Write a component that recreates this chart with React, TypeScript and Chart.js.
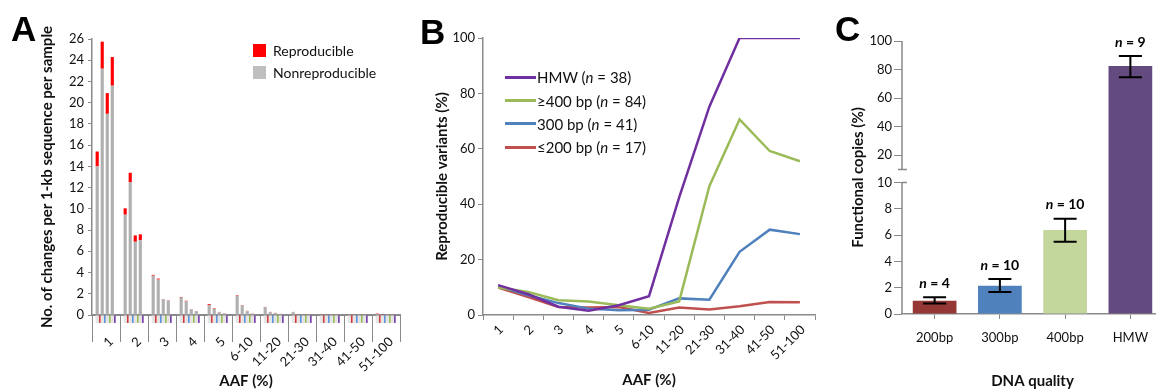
import React, { useEffect, useRef } from 'react';
import { Chart, registerables, LinearScale } from 'chart.js';

const FONT = 'Lato, "Open Sans", "DejaVu Sans", sans-serif';
const LETTER_FONT = '"Liberation Sans", Arial, sans-serif';
const TEXT = '#111111';
const AXIS = '#8a8a8a';

// ---------------- Panel A data ----------------
const aafLabels = ['1', '2', '3', '4', '5', '6-10', '11-20', '21-30', '31-40', '41-50', '51-100'];
const nonRepS1 = [14.0, 9.45, 3.7, 1.64, 0.95, 1.8, 0.72, 0.27, 0.04, 0.03, 0.1];
const repS1 = [1.4, 0.6, 0.08, 0.06, 0.08, 0.05, 0.04, 0.02, 0.02, 0.01, 0.04];
const nonRepS2 = [23.2, 12.5, 3.34, 1.28, 0.58, 0.88, 0.26, 0.05, 0.03, 0.03, 0.04];
const repS2 = [2.55, 0.9, 0.09, 0.06, 0.05, 0.04, 0.03, 0.01, 0.01, 0.01, 0.02];
const nonRepS3 = [18.95, 6.9, 1.48, 0.52, 0.26, 0.36, 0.18, 0.04, 0.03, 0.02, 0.03];
const repS3 = [1.95, 0.6, 0.03, 0.03, 0.03, 0.03, 0.02, 0.01, 0.01, 0.01, 0.01];
const nonRepS4 = [21.6, 7.05, 1.35, 0.36, 0.15, 0.12, 0.1, 0.03, 0.02, 0.02, 0.03];
const repS4 = [2.7, 0.55, 0.03, 0.02, 0.02, 0.02, 0.01, 0.01, 0.01, 0.01, 0.01];
const markerDepth = [-0.75, -0.75, -0.75, -0.75, -0.75, -0.75, -0.75, -0.75, -0.75, -0.75, -0.75];
const aTickMax = 26;

// ---------------- Panel B data ----------------
const hmwPct = [10.8, 7.5, 3.0, 1.5, 3.5, 6.8, 42.5, 75.2, 100, 100, 100];
const bp400Pct = [9.9, 8.3, 5.3, 4.9, 3.5, 2.3, 4.9, 46.5, 70.6, 59.2, 55.5];
const bp300Pct = [10.4, 7.1, 4.3, 2.3, 1.7, 1.9, 6.0, 5.5, 22.8, 30.8, 29.2];
const bp200Pct = [9.9, 6.5, 2.9, 2.7, 2.9, 0.7, 2.7, 2.0, 3.2, 4.7, 4.6];
const bSeriesNames = ['HMW', '≥400 bp', '300 bp', '≤200 bp'];
const bSeriesN = [38, 84, 41, 17];

// ---------------- Panel C data ----------------
const qualityLabels = ['200bp', '300bp', '400bp', 'HMW'];
const functionalPct = [1.0, 2.15, 6.4, 82.5];
const errLow = [0.8, 1.67, 5.5, 74.6];
const errHigh = [1.27, 2.66, 7.24, 89.5];
const nCounts = [4, 10, 10, 9];
const cTickValues = [0, 2, 4, 6, 8, 10, 20, 40, 60, 80, 100];

// broken axis configuration (panel C)
const BREAK_AT = 10;
const BREAK_GAP = 1;
const UPPER_SCALE = 0.1086;
const C_MAX = 100;

class BrokenLinearScale extends (LinearScale as any) {
  static id = 'brokenLinear';
  static defaults = (LinearScale as any).defaults;
  toLinear(v: number) {
    return v <= BREAK_AT ? v : BREAK_AT + BREAK_GAP + (v - BREAK_AT) * UPPER_SCALE;
  }
  determineDataLimits() {
    this.min = 0;
    this.max = this.toLinear(C_MAX);
  }
  buildTicks() {
    return cTickValues.map((v) => ({ value: v }));
  }
  getPixelForLinear(d: number) {
    return super.getPixelForValue(d);
  }
  getPixelForValue(v: number) {
    if (v === null || v === undefined || isNaN(v)) return NaN;
    return super.getPixelForValue(this.toLinear(v));
  }
  getValueForPixel(p: number) {
    const d = super.getValueForPixel(p);
    return d <= BREAK_AT ? d : BREAK_AT + (d - BREAK_AT - BREAK_GAP) / UPPER_SCALE;
  }
}

Chart.register(...registerables, BrokenLinearScale as any);
Chart.defaults.font.family = FONT;
Chart.defaults.color = TEXT;

const tickFont = { size: 13, family: FONT };
const titleFont = { size: 15, weight: 'bold' as const, family: FONT };

// ---------------- Panel A ----------------
function PanelA() {
  const ref = useRef<HTMLCanvasElement>(null);
  useEffect(() => {
    const nonRep = [nonRepS1, nonRepS2, nonRepS3, nonRepS4];
    const rep = [repS1, repS2, repS3, repS4];
    const sampleColors = ['#d03a3a', '#5b8fd4', '#9bbb59', '#7a47ad'];
    const common = { clip: false as any, barPercentage: 1.25, categoryPercentage: 0.72 };
    const datasets: any[] = [];
    nonRep.forEach((vals, i) => {
      datasets.push({ ...common, label: 'Nonreproducible', data: vals, backgroundColor: '#b0b0b0', stack: 'bar' + i });
      datasets.push({ ...common, label: 'Reproducible', data: rep[i], backgroundColor: '#ff0000', stack: 'bar' + i });
      datasets.push({ ...common, label: 'under', data: markerDepth, backgroundColor: '#e4e4e4', stack: 'bar' + i });
      datasets.push({ ...common, label: 'marker', data: markerDepth, backgroundColor: sampleColors[i], stack: 'mark' + i, barPercentage: 0.7 });
    });
    const chart = new Chart(ref.current!, {
      type: 'bar',
      data: { labels: aafLabels, datasets },
      options: {
        responsive: false,
        animation: false,
        devicePixelRatio: 1,
        layout: { padding: { top: 39, right: 10, left: 0, bottom: 0 } },
        plugins: { legend: { display: false }, tooltip: { enabled: false } },
        scales: {
          x: {
            stacked: true,
            grid: { offset: true, drawOnChartArea: false, tickLength: 27, color: AXIS, lineWidth: 1 },
            border: { color: AXIS, width: 2 },
            ticks: { minRotation: 45, maxRotation: 45, autoSkip: false, padding: -8, labelOffset: 5, font: tickFont, color: TEXT },
            title: { display: true, text: 'AAF (%)', font: titleFont, color: TEXT, padding: { top: 0, bottom: 0 } },
            afterFit: (s: any) => { s.height = 75; },
          },
          y: {
            stacked: true,
            min: 0,
            max: aTickMax,
            ticks: { stepSize: 2, padding: 4, font: tickFont, color: TEXT },
            grid: { drawOnChartArea: false, tickLength: 4, color: AXIS },
            border: { color: AXIS, width: 1.5 },
            title: { display: true, text: 'No. of changes per 1-kb sequence per sample', font: titleFont, color: TEXT, padding: { top: 38, bottom: 0 } },
            afterFit: (s: any) => { s.width = 92; },
          },
        },
      } as any,
    });
    return () => chart.destroy();
  }, []);
  return (
    <>
      <canvas ref={ref} width={410} height={390} style={{ position: 'absolute', left: 0, top: 0 }} />
      <div style={{ position: 'absolute', left: 253, top: 44, width: 13, height: 13, background: '#ff0000' }} />
      <div style={{ position: 'absolute', left: 273, top: 41, fontSize: 14, lineHeight: '19px', color: TEXT }}>Reproducible</div>
      <div style={{ position: 'absolute', left: 253, top: 66, width: 13, height: 13, background: '#bfbfbf' }} />
      <div style={{ position: 'absolute', left: 273, top: 63, fontSize: 14, lineHeight: '19px', color: TEXT }}>Nonreproducible</div>
    </>
  );
}

// ---------------- Panel B ----------------
const bColors = ['#7030a0', '#9bbb59', '#4f81bd', '#c0504d'];
function PanelB() {
  const ref = useRef<HTMLCanvasElement>(null);
  useEffect(() => {
    const series = [hmwPct, bp400Pct, bp300Pct, bp200Pct];
    const chart = new Chart(ref.current!, {
      type: 'line',
      data: {
        labels: aafLabels,
        datasets: series.map((d, i) => ({
          label: bSeriesNames[i],
          data: d,
          borderColor: bColors[i],
          backgroundColor: bColors[i],
          borderWidth: 2.5,
          pointRadius: 0,
          tension: 0,
        })),
      },
      options: {
        responsive: false,
        animation: false,
        devicePixelRatio: 1,
        layout: { padding: { top: 38, right: 10, left: 0, bottom: 0 } },
        plugins: { legend: { display: false }, tooltip: { enabled: false } },
        scales: {
          x: {
            offset: true,
            grid: { offset: true, drawOnChartArea: false, tickLength: 5, color: AXIS },
            border: { color: AXIS, width: 1.5 },
            ticks: { minRotation: 45, maxRotation: 45, autoSkip: false, padding: 2, labelOffset: 3, font: tickFont, color: TEXT },
            title: { display: true, text: 'AAF (%)', font: titleFont, color: TEXT, padding: { top: 0, bottom: 1 } },
            afterFit: (s: any) => { s.height = 75; },
          },
          y: {
            min: 0,
            max: 100,
            ticks: { stepSize: 20, padding: 3, font: tickFont, color: TEXT },
            grid: { drawOnChartArea: false, tickLength: 5, color: AXIS },
            border: { color: AXIS, width: 1.5 },
            title: { display: true, text: 'Reproducible variants (%)', font: titleFont, color: TEXT, padding: { top: 33.5, bottom: 0 } },
            afterFit: (s: any) => { s.width = 83; },
          },
        },
      } as any,
    });
    return () => chart.destroy();
  }, []);
  const rowTops = [77, 100.5, 123.5, 147];
  return (
    <>
      <canvas ref={ref} width={425} height={390} style={{ position: 'absolute', left: 400, top: 0 }} />
      {bSeriesNames.map((name, i) => (
        <React.Fragment key={name}>
          <div style={{ position: 'absolute', left: 505, top: rowTops[i] - 1.5, width: 31, height: 3, background: bColors[i] }} />
          <div style={{ position: 'absolute', left: 537, top: rowTops[i] - 10, fontSize: 15, lineHeight: '20px', color: TEXT, whiteSpace: 'nowrap' }}>
            {name} (<i>n</i> = {bSeriesN[i]})
          </div>
        </React.Fragment>
      ))}
    </>
  );
}

// ---------------- Panel C ----------------
const errorBarPlugin = {
  id: 'errorBarsAndN',
  afterDatasetsDraw(chart: any) {
    const { ctx } = chart;
    const x = chart.scales.x;
    const y = chart.scales.y;
    ctx.save();
    ctx.strokeStyle = '#000';
    ctx.lineWidth = 2;
    qualityLabels.forEach((_, i) => {
      const cx = x.getPixelForValue(i);
      const yl = y.getPixelForValue(errLow[i]);
      const yh = y.getPixelForValue(errHigh[i]);
      ctx.beginPath();
      ctx.moveTo(cx, yl); ctx.lineTo(cx, yh);
      ctx.moveTo(cx - 11.5, yl); ctx.lineTo(cx + 11.5, yl);
      ctx.moveTo(cx - 11.5, yh); ctx.lineTo(cx + 11.5, yh);
      ctx.stroke();
      const p1 = 'n';
      const p2 = ' = ' + nCounts[i];
      ctx.font = `italic bold 14px ${FONT}`;
      const w1 = ctx.measureText(p1).width;
      ctx.font = `bold 14px ${FONT}`;
      const w2 = ctx.measureText(p2).width;
      const sx = cx - (w1 + w2) / 2;
      const ty = yh - 14;
      ctx.fillStyle = '#000';
      ctx.textAlign = 'left';
      ctx.textBaseline = 'middle';
      ctx.font = `italic bold 14px ${FONT}`;
      ctx.fillText(p1, sx, ty);
      ctx.font = `bold 14px ${FONT}`;
      ctx.fillText(p2, sx + w1, ty);
    });
    ctx.restore();
  },
  afterDraw(chart: any) {
    const { ctx, chartArea } = chart;
    const y = chart.scales.y;
    const ax = chartArea.left;
    const p0 = y.getPixelForValue(0);
    const p10 = y.getPixelForValue(BREAK_AT);
    const pGap = y.getPixelForLinear(BREAK_AT + BREAK_GAP);
    const pTop = y.getPixelForValue(C_MAX);
    ctx.save();
    ctx.strokeStyle = AXIS;
    ctx.lineWidth = 1.5;
    ctx.beginPath();
    ctx.moveTo(ax, p0); ctx.lineTo(ax, p10);
    ctx.moveTo(ax, pGap); ctx.lineTo(ax, pTop);
    ctx.moveTo(ax - 4, pGap); ctx.lineTo(ax + 5, pGap);
    ctx.moveTo(ax, p10); ctx.lineTo(ax + 5, p10);
    ctx.stroke();
    ctx.restore();
  },
};

function PanelC() {
  const ref = useRef<HTMLCanvasElement>(null);
  useEffect(() => {
    const chart = new Chart(ref.current!, {
      type: 'bar',
      data: {
        labels: qualityLabels,
        datasets: [{
          label: 'Functional copies',
          data: functionalPct,
          backgroundColor: ['#953735', '#4f81bd', '#c3d69b', '#634a7f'],
          barPercentage: 0.67,
          categoryPercentage: 1,
        }],
      },
      options: {
        responsive: false,
        animation: false,
        devicePixelRatio: 1,
        layout: { padding: { top: 41, right: 17, left: 0, bottom: 0 } },
        plugins: { legend: { display: false }, tooltip: { enabled: false } },
        scales: {
          x: {
            grid: { offset: false, drawOnChartArea: false, tickLength: 5, color: AXIS },
            border: { color: AXIS, width: 1.5 },
            ticks: { padding: 11, font: tickFont, color: TEXT },
            title: { display: true, text: 'DNA quality', font: titleFont, color: TEXT, padding: { top: 0, bottom: 0 } },
            afterFit: (s: any) => { s.height = 76; },
          },
          y: {
            type: 'brokenLinear',
            ticks: { padding: 2, font: tickFont, color: TEXT, callback: (v: any) => String(v) },
            grid: { drawOnChartArea: false, tickLength: 8, color: AXIS },
            border: { display: false },
            title: { display: true, text: 'Functional copies (%)', font: titleFont, color: TEXT, padding: { top: 28.7, bottom: 0 } },
            afterFit: (s: any) => { s.width = 82; },
          },
        },
      } as any,
      plugins: [errorBarPlugin],
    });
    return () => chart.destroy();
  }, []);
  return <canvas ref={ref} width={360} height={390} style={{ position: 'absolute', left: 820, top: 0 }} />;
}

const letterStyle: React.CSSProperties = {
  position: 'absolute',
  fontFamily: LETTER_FONT,
  fontWeight: 'bold',
  fontSize: 35,
  lineHeight: '35px',
  color: '#000',
};

export default function App() {
  return (
    <div style={{ position: 'fixed', left: 0, top: 0, width: 1156, height: 390, overflow: 'hidden', background: '#fff', fontFamily: FONT }}>
      <PanelA />
      <PanelB />
      <PanelC />
      <div style={{ ...letterStyle, left: 11, top: 10.5 }}>A</div>
      <div style={{ ...letterStyle, left: 420, top: 14 }}>B</div>
      <div style={{ ...letterStyle, left: 835, top: 10.5 }}>C</div>
    </div>
  );
}
